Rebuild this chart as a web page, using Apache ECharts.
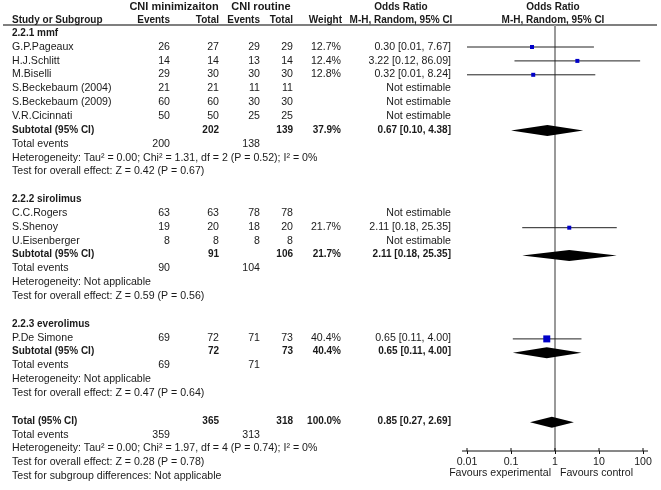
<!DOCTYPE html>
<html><head><meta charset="utf-8">
<script src="https://cdn.jsdelivr.net/npm/echarts@6/dist/echarts.min.js"></script>
<style>html,body{margin:0;padding:0;background:#fff}#c{width:661px;height:490px}</style>
</head><body><div id="c"></div>
<script>
// ---------------- DATA ----------------
const groupNames = ['2.2.1 mmf', '2.2.2 sirolimus', '2.2.3 everolimus'];
const studyGroup = [0, 0, 0, 0, 0, 0, 1, 1, 1, 2];
const studies = ['G.P.Pageaux', 'H.J.Schlitt', 'M.Biselli', 'S.Beckebaum (2004)', 'S.Beckebaum (2009)', 'V.R.Cicinnati', 'C.C.Rogers', 'S.Shenoy', 'U.Eisenberger', 'P.De Simone'];
const expEvents = [26, 14, 29, 21, 60, 50, 63, 19, 8, 69];
const expTotal  = [27, 14, 30, 21, 60, 50, 63, 20, 8, 72];
const ctlEvents = [29, 13, 30, 11, 30, 25, 78, 18, 8, 71];
const ctlTotal  = [29, 14, 30, 11, 30, 25, 78, 20, 8, 73];
const studyWeight = [12.7, 12.4, 12.8, null, null, null, null, 21.7, null, 40.4];
const studyOR   = [0.30, 3.22, 0.32, null, null, null, null, 2.11, null, 0.65];
const studyLow  = [0.01, 0.12, 0.01, null, null, null, null, 0.18, null, 0.11];
const studyHigh = [7.67, 86.09, 8.24, null, null, null, null, 25.35, null, 4.00];

const subExpTotal  = [202, 91, 72];
const subCtlTotal  = [139, 106, 73];
const subExpEvents = [200, 90, 69];
const subCtlEvents = [138, 104, 71];
const subWeight = [37.9, 21.7, 40.4];
const subOR   = [0.67, 2.11, 0.65];
const subLow  = [0.10, 0.18, 0.11];
const subHigh = [4.38, 25.35, 4.00];
const subHeterogeneity = [
  'Heterogeneity: Tau² = 0.00; Chi² = 1.31, df = 2 (P = 0.52); I² = 0%',
  'Heterogeneity: Not applicable',
  'Heterogeneity: Not applicable'];
const subEffect = [
  'Test for overall effect: Z = 0.42 (P = 0.67)',
  'Test for overall effect: Z = 0.59 (P = 0.56)',
  'Test for overall effect: Z = 0.47 (P = 0.64)'];

const totExpTotal = 365, totCtlTotal = 318, totWeight = 100.0;
const totOR = 0.85, totLow = 0.27, totHigh = 2.69;
const totExpEvents = 359, totCtlEvents = 313;
const totHeterogeneity = 'Heterogeneity: Tau² = 0.00; Chi² = 1.97, df = 4 (P = 0.74); I² = 0%';
const totEffect = 'Test for overall effect: Z = 0.28 (P = 0.78)';
const subgroupTest = 'Test for subgroup differences: Not applicable';

const axisTicks = [0.01, 0.1, 1, 10, 100];
const tickLabels = ['0.01', '0.1', '1', '10', '100'];
const favoursLeft = 'Favours experimental';
const favoursRight = 'Favours control';

// ---------------- STYLE / LAYOUT ----------------
const FONT = '"Liberation Sans", Arial, sans-serif';
const FS = 10.6, FS_BOLD = 10, FS_HEAD = 11;
const TXT = '#1a1a1a';
const ROW_H = 13.9, TOP = 5.3;
const markerPx = [4, 4, 4, 0, 0, 0, 0, 4, 0, 7];
const COL = { study: 12, expEv: 170, expTot: 219, ctlEv: 260, ctlTot: 293, weight: 341, or: 451, orHead: 401, plotHead: 553, cniMin: 174, cniRout: 261, weightHead: 342 };
const PLOT_L = 467, PLOT_W = 176, AXIS_Y = 451;

// ---------------- BUILD TABLE ----------------
const cells = [];
function cell(x, row, text, align, bold, size) {
  cells.push({ value: [x, row], text: String(text), align: align, bold: !!bold, size: size || (bold ? FS_BOLD : FS) });
}
const fmtOR = (o, l, h) => o.toFixed(2) + ' [' + l.toFixed(2) + ', ' + h.toFixed(2) + ']';

// headers
cell(COL.cniMin, 0.12, 'CNI minimizaiton', 'center', true, FS_HEAD);
cell(COL.cniRout, 0.12, 'CNI routine', 'center', true, FS_HEAD);
cell(COL.orHead, 0.12, 'Odds Ratio', 'center', true);
cell(COL.plotHead, 0.12, 'Odds Ratio', 'center', true);
cell(COL.study, 1.1, 'Study or Subgroup', 'left', true);
cell(COL.expEv, 1.1, 'Events', 'right', true);
cell(COL.expTot, 1.1, 'Total', 'right', true);
cell(COL.ctlEv, 1.1, 'Events', 'right', true);
cell(COL.ctlTot, 1.1, 'Total', 'right', true);
cell(COL.weightHead, 1.1, 'Weight', 'right', true);
cell(COL.orHead, 1.1, 'M-H, Random, 95% CI', 'center', true);
cell(COL.plotHead, 1.1, 'M-H, Random, 95% CI', 'center', true);

const studyPts = [];   // [or, low, high, row, idx]
const diamonds = [];   // [or, low, high, row]
let r = 2;
groupNames.forEach((g, gi) => {
  cell(COL.study, r, g, 'left', true); r++;
  studies.forEach((s, i) => {
    if (studyGroup[i] !== gi) return;
    cell(COL.study, r, s, 'left');
    cell(COL.expEv, r, expEvents[i], 'right');
    cell(COL.expTot, r, expTotal[i], 'right');
    cell(COL.ctlEv, r, ctlEvents[i], 'right');
    cell(COL.ctlTot, r, ctlTotal[i], 'right');
    if (studyOR[i] != null) {
      cell(COL.weight, r, studyWeight[i].toFixed(1) + '%', 'right');
      cell(COL.or, r, fmtOR(studyOR[i], studyLow[i], studyHigh[i]), 'right');
      studyPts.push([studyOR[i], studyLow[i], studyHigh[i], r, i]);
    } else {
      cell(COL.or, r, 'Not estimable', 'right');
    }
    r++;
  });
  cell(COL.study, r, 'Subtotal (95% CI)', 'left', true);
  cell(COL.expTot, r, subExpTotal[gi], 'right', true);
  cell(COL.ctlTot, r, subCtlTotal[gi], 'right', true);
  cell(COL.weight, r, subWeight[gi].toFixed(1) + '%', 'right', true);
  cell(COL.or, r, fmtOR(subOR[gi], subLow[gi], subHigh[gi]), 'right', true);
  diamonds.push([subOR[gi], subLow[gi], subHigh[gi], r]);
  r++;
  cell(COL.study, r, 'Total events', 'left');
  cell(COL.expEv, r, subExpEvents[gi], 'right');
  cell(COL.ctlEv, r, subCtlEvents[gi], 'right');
  r++;
  cell(COL.study, r, subHeterogeneity[gi], 'left'); r++;
  cell(COL.study, r, subEffect[gi], 'left'); r++;
  r++; // blank
});
cell(COL.study, r, 'Total (95% CI)', 'left', true);
cell(COL.expTot, r, totExpTotal, 'right', true);
cell(COL.ctlTot, r, totCtlTotal, 'right', true);
cell(COL.weight, r, totWeight.toFixed(1) + '%', 'right', true);
cell(COL.or, r, fmtOR(totOR, totLow, totHigh), 'right', true);
diamonds.push([totOR, totLow, totHigh, r]);
r++;
cell(COL.study, r, 'Total events', 'left');
cell(COL.expEv, r, totExpEvents, 'right');
cell(COL.ctlEv, r, totCtlEvents, 'right');
r++;
cell(COL.study, r, totHeterogeneity, 'left'); r++;
cell(COL.study, r, totEffect, 'left'); r++;
cell(COL.study, r, subgroupTest, 'left'); r++;

const favRow = (474.5 - TOP) / ROW_H;
cell(551, favRow, favoursLeft, 'right');
cell(560, favRow, favoursRight, 'left');

const underlineRow = (25 - TOP) / ROW_H;
const plotYMax = (AXIS_Y - TOP) / ROW_H;

// ---------------- CHART ----------------
const chart = echarts.init(document.getElementById('c'), null, { renderer: 'canvas' });
const option = {
  animation: false,
  backgroundColor: '#fff',
  grid: [
    { left: 0, top: TOP, width: 661, height: ROW_H * 35, containLabel: false },
    { left: PLOT_L, top: TOP, width: PLOT_W, height: AXIS_Y - TOP, containLabel: false }
  ],
  xAxis: [
    { gridIndex: 0, type: 'value', min: 0, max: 661, show: false },
    { gridIndex: 1, type: 'log', logBase: 10, min: 0.01, max: 100, position: 'bottom',
      axisLine: { show: false, onZero: false },
      axisTick: { show: true, length: 3, lineStyle: { color: '#111', width: 1 } },
      axisLabel: { show: true, margin: 6, color: TXT, fontFamily: FONT, fontSize: FS,
        formatter: v => tickLabels[Math.round(Math.log10(v)) + 2] },
      splitLine: { show: false } }
  ],
  yAxis: [
    { gridIndex: 0, type: 'value', min: 0, max: 35, inverse: true, show: false },
    { gridIndex: 1, type: 'value', min: 0, max: plotYMax, inverse: true, show: false }
  ],
  series: [
    { // header underline
      type: 'custom', xAxisIndex: 0, yAxisIndex: 0, silent: true,
      data: [[3, underlineRow, 657]],
      renderItem: (p, api) => {
        const a = api.coord([api.value(0), api.value(1)]);
        const b = api.coord([api.value(2), api.value(1)]);
        return { type: 'line', shape: { x1: a[0], y1: a[1], x2: b[0], y2: b[1] }, style: { stroke: '#555', lineWidth: 1.5 } };
      }
    },
    { // vertical line of no effect
      type: 'custom', xAxisIndex: 1, yAxisIndex: 1, silent: true,
      data: [[1, underlineRow, plotYMax]],
      renderItem: (p, api) => {
        const a = api.coord([api.value(0), api.value(1)]);
        const b = api.coord([api.value(0), api.value(2)]);
        return { type: 'line', shape: { x1: a[0], y1: a[1], x2: b[0], y2: b[1] }, style: { stroke: '#999', lineWidth: 2 } };
      }
    },
    { // axis line (slightly extended past end ticks) and upper halves of ticks
      type: 'custom', xAxisIndex: 1, yAxisIndex: 1, silent: true, clip: false,
      data: axisTicks.map(t => [t, plotYMax]),
      renderItem: (p, api) => {
        const c = api.coord([api.value(0), api.value(1)]);
        const kids = [{ type: 'line', shape: { x1: c[0], y1: c[1] - 3, x2: c[0], y2: c[1] }, style: { stroke: '#111', lineWidth: 1 } }];
        if (p.dataIndex === 0) {
          const a = api.coord([axisTicks[0], api.value(1)]);
          const b = api.coord([axisTicks[axisTicks.length - 1], api.value(1)]);
          kids.push({ type: 'line', shape: { x1: a[0] - 5, y1: a[1], x2: b[0] + 5, y2: b[1] }, style: { stroke: '#111', lineWidth: 1 } });
        }
        return { type: 'group', children: kids };
      }
    },
    { // study CIs and squares
      type: 'custom', xAxisIndex: 1, yAxisIndex: 1, silent: true,
      data: studyPts,
      renderItem: (p, api) => {
        const row = api.value(3);
        const c = api.coord([api.value(0), row]);
        const l = api.coord([api.value(1), row]);
        const h = api.coord([api.value(2), row]);
        const s = markerPx[api.value(4)];
        return { type: 'group', children: [
          { type: 'line', shape: { x1: l[0], y1: c[1], x2: h[0], y2: c[1] }, style: { stroke: '#222', lineWidth: 1 } },
          { type: 'rect', shape: { x: c[0] - s / 2, y: c[1] - s / 2, width: s, height: s }, style: { fill: '#0000c8' } }
        ] };
      }
    },
    { // diamonds
      type: 'custom', xAxisIndex: 1, yAxisIndex: 1, silent: true,
      data: diamonds,
      renderItem: (p, api) => {
        const row = api.value(3);
        const c = api.coord([api.value(0), row]);
        const l = api.coord([api.value(1), row]);
        const h = api.coord([api.value(2), row]);
        const hh = 5.5;
        return { type: 'polygon', shape: { points: [[l[0], c[1]], [c[0], c[1] - hh], [h[0], c[1]], [c[0], c[1] + hh]] }, style: { fill: '#000' } };
      }
    },
    { // table text
      type: 'custom', xAxisIndex: 0, yAxisIndex: 0, silent: true,
      data: cells.map(c => c.value),
      renderItem: (p, api) => {
        const c = cells[p.dataIndex];
        const pt = api.coord(c.value);
        return { type: 'text', x: pt[0], y: pt[1], style: {
          text: c.text, align: c.align, verticalAlign: 'middle',
          fontFamily: FONT, fontSize: c.size, fontWeight: c.bold ? 'bold' : 'normal', fill: TXT } };
      }
    }
  ]
};
chart.setOption(option);
</script>
</body></html>
